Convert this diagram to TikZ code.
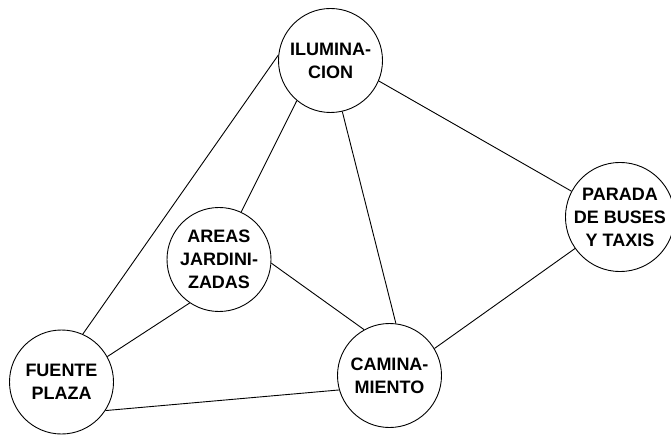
\documentclass[tikz,border=0pt]{standalone}
\usepackage{fontspec}
\setmainfont{Liberation Sans}
\usepackage{tikz}
\usetikzlibrary{positioning}

\begin{document}
\begin{tikzpicture}[x=1pt, y=-1pt,
    every node/.style={font=\fontsize{18}{23}\selectfont\bfseries},
    zona/.style={draw, circle, line width=0.9pt, minimum size=104pt, inner sep=0pt, align=center},
    enlace/.style={line width=0.9pt}]
          \useasboundingbox (0,0) rectangle (671,435);
          \node[zona] (ilum) at (330.5,60.5) {ILUMINA-\\CION};
          \node[zona, minimum size=98pt] (parada) at (620,217) {PARADA\\DE BUSES\\Y TAXIS};
          \node[zona] (areas) at (219,259.5) {AREAS\\JARDINI-\\ZADAS};
          \node[zona] (fuente) at (61.5,382) {FUENTE\\PLAZA};
          \node[zona] (camino) at (389.5,375.5) {CAMINA-\\MIENTO};
          \draw[enlace] (ilum.174) -- (fuente.66);
          \draw[enlace] (ilum.230) -- (areas.65);
          \draw[enlace] (ilum.-77) -- (camino.83);
          \draw[enlace] (ilum.-23) -- (parada.152);
          \draw[enlace] (areas.-124) -- (fuente.29);
          \draw[enlace] (areas.-4) -- (camino.119);
          \draw[enlace] (fuente.-33) -- (camino.196);
          \draw[enlace] (camino.31) -- (parada.215);
        \end{tikzpicture}
\end{document}
